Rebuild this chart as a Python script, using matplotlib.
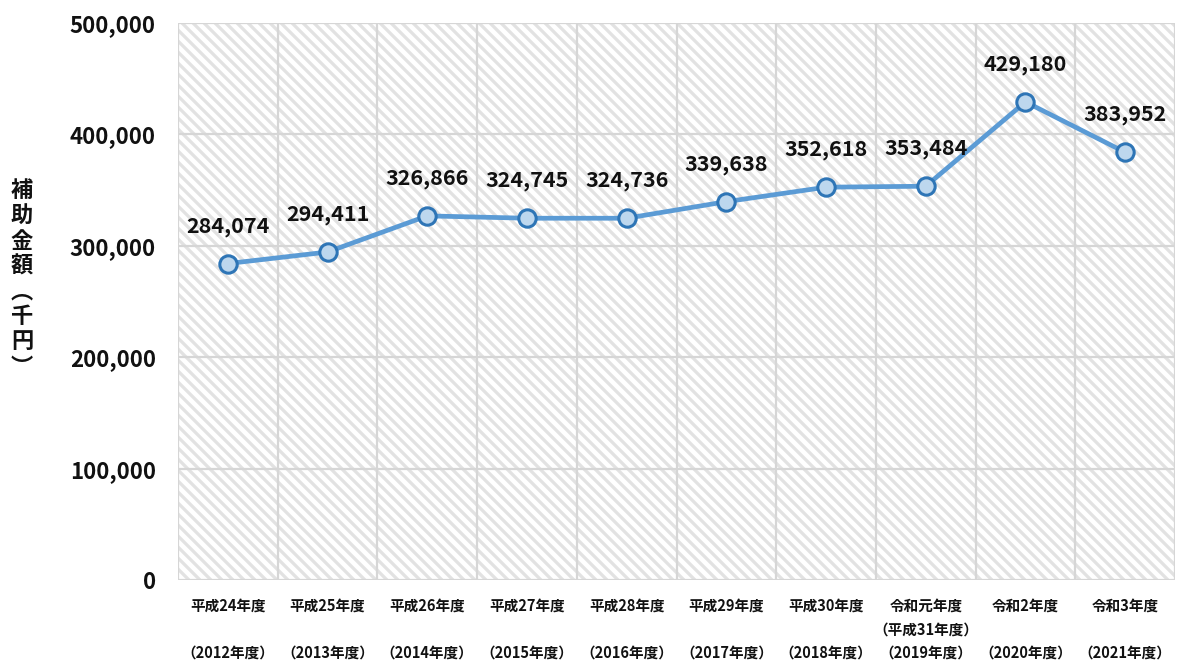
import numpy as np
import matplotlib
matplotlib.use("Agg")
import matplotlib.pyplot as plt
from matplotlib.collections import LineCollection

plt.rcParams['font.family'] = ['Noto Sans CJK JP', 'DejaVu Sans']

# 年度ごとの補助金額（千円）
years = [
    "平成24年度\n\n（2012年度）",
    "平成25年度\n\n（2013年度）",
    "平成26年度\n\n（2014年度）",
    "平成27年度\n\n（2015年度）",
    "平成28年度\n\n（2016年度）",
    "平成29年度\n\n（2017年度）",
    "平成30年度\n\n（2018年度）",
    "令和元年度\n（平成31年度）\n（2019年度）",
    "令和2年度\n\n（2020年度）",
    "令和3年度\n\n（2021年度）",
]
amounts = [284074, 294411, 326866, 324745, 324736, 339638, 352618, 353484, 429180, 383952]
yticks = [0, 100000, 200000, 300000, 400000, 500000]
ylabel_chars = ["補", "助", "金", "額", "︵", "千", "円", "︶"]

W, H = 1177, 664
fig = plt.figure(figsize=(W / 100, H / 100), dpi=100)
L, R, T, B = 178, 1175, 23, 580
ax = fig.add_axes([L / W, 1 - B / H, (R - L) / W, (B - T) / H])

n = len(amounts)
x = np.arange(n)
ax.set_xlim(-0.5, n - 0.5)
ax.set_ylim(0, 500000)

# diagonal stripe fill of the plot area
pw, ph = R - L, B - T
step = 11.0
segs = []
c = 0.0
while c < pw + ph:
    segs.append([(c / pw, 0.0), ((c - ph) / pw, 1.0)])
    c += step
stripes = LineCollection(segs, colors="#e2e2e2", linewidths=2.3,
                         transform=ax.transAxes, zorder=0)
ax.add_collection(stripes)

# grid lines
grid_kw = dict(color="#d6d6d6", lw=1.6, zorder=1)
for yv in yticks:
    ax.axhline(yv, **grid_kw)
for xb in np.arange(-0.5, n, 1.0):
    ax.axvline(xb, **grid_kw)
for s in ax.spines.values():
    s.set_visible(False)

ax.plot(x, amounts, color="#5B9BD5", lw=3.4, marker="o", markersize=12.5,
        markerfacecolor="#BDD7EE", markeredgecolor="#2E75B6",
        markeredgewidth=2.2, zorder=3, solid_capstyle="round")

for xi, v in zip(x, amounts):
    ax.annotate(f"{v:,}", (xi, v), xytext=(0, 27), textcoords="offset points",
                ha="center", va="center", fontsize=15.5, fontweight="bold",
                color="#111111", zorder=4)

ax.set_yticks(yticks)
ax.set_yticklabels([f"{v:,}" for v in yticks], fontsize=16, fontweight="bold",
                   color="#111111")
ax.set_xticks(x)
ax.set_xticklabels(years, fontsize=10.5, fontweight="bold", color="#111111",
                   linespacing=1.55, va="top")
ax.tick_params(axis="both", length=0)
ax.tick_params(axis="y", pad=16)
ax.tick_params(axis="x", pad=13)

fig.text(22 / W, 1 - 279 / H, "\n".join(ylabel_chars), ha="center", va="center",
         fontsize=16, fontweight="bold", color="#111111", linespacing=1.12)

fig.savefig("out.png", dpi=100, facecolor="white")
